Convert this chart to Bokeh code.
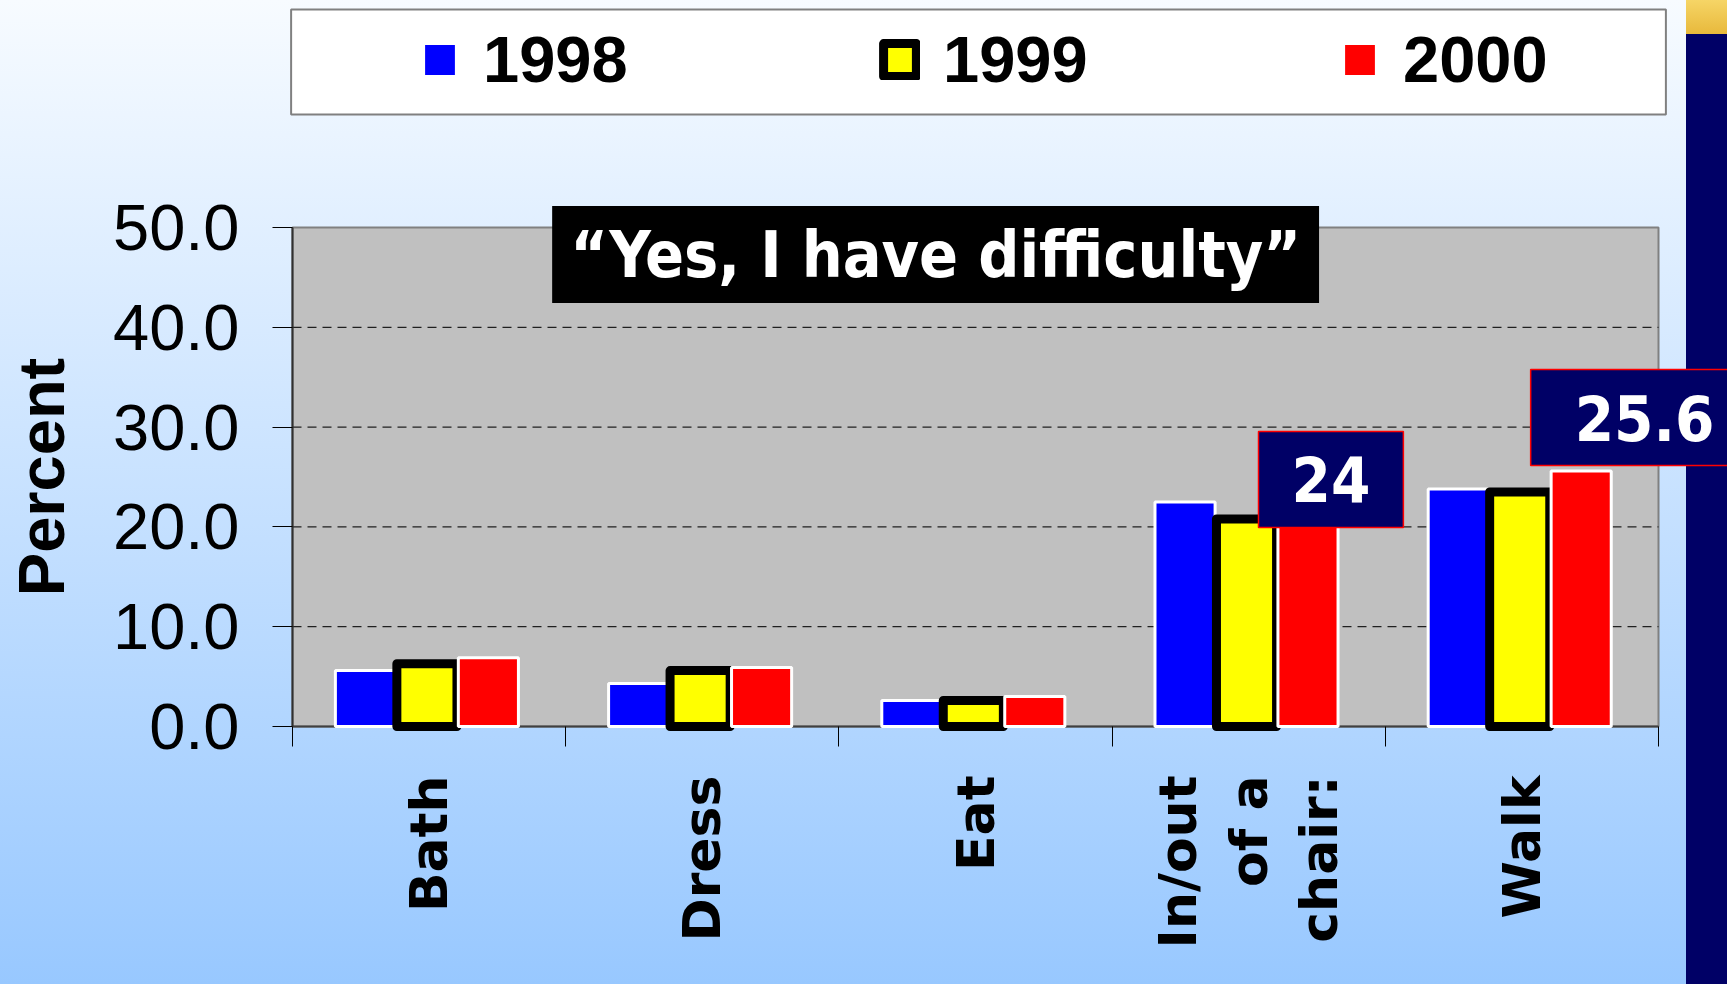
import math
from bokeh.plotting import figure
from bokeh.models import (Range1d, LinearAxis, FixedTicker,
                          NumeralTickFormatter, Legend, LegendItem, Label, ColumnDataSource)
from bokeh.embed import file_html
from bokeh.resources import INLINE

# ---------------- data ----------------
categories = ["Bath", "Dress", "Eat", "In/out\nof a\nchair:", "Walk"]
years = ["1998", "1999", "2000"]
v1998 = [5.6, 4.3, 2.6, 22.5, 23.8]
v1999 = [6.3, 5.6, 2.6, 20.8, 23.5]
v2000 = [6.9, 5.9, 3.0, 24.0, 25.6]
y_ticks = [0, 10, 20, 30, 40, 50]
title_text = "\u201cYes, I have difficulty\u201d"
callout_index = [3, 4]          # categories whose 2000 value is called out

# ---------------- layout / styles ----------------
COND = "'DejaVu Sans Condensed', 'DejaVu Sans'"
VERD = "DejaVu Sans"
ARIAL = "Liberation Sans"
W, H = 1727, 984
AX_X, AX_Y = 292, 726          # pixel position of the data origin
PX_X, PX_Y = 273.2, 9.98       # pixels per data unit
n = len(categories)
centers = [i + 0.5 for i in range(n)]
edges = [i for i in range(n + 1)]
offsets = [-0.233, -0.008, 0.217]
BW = 0.22
YMAX = y_ticks[-1]

src = ColumnDataSource(dict(
    x1998=[c + offsets[0] for c in centers],
    x1999=[c + offsets[1] for c in centers],
    x2000=[c + offsets[2] for c in centers],
    y1998=v1998, y1999=v1999, y2000=v2000))

p = figure(width=W, height=H,
           x_range=Range1d(-AX_X / PX_X, (W - AX_X) / PX_X),
           y_range=Range1d(-(H - AX_Y) / PX_Y, AX_Y / PX_Y),
           output_backend="svg", toolbar_location=None,
           x_axis_location=None, y_axis_location=None,
           min_border_left=0, min_border_right=0, min_border_top=0, min_border_bottom=0)

p.background_fill_color = None
p.border_fill_color = None
p.outline_line_color = None
p.grid.grid_line_color = None
p.styles = {
    "background": ("linear-gradient(#f6d566, #e8b93c) 1686px 0px / 41px 34px no-repeat, "
                   "linear-gradient(to right, rgba(0,0,0,0) 1686px, #000066 1686px), "
                   "linear-gradient(to bottom, #f7fbff, #98c8ff)")
}

# plot area and dashed grid lines
p.quad(left=[edges[0]], right=[edges[-1]], bottom=[y_ticks[0]], top=[YMAX],
       fill_color="#c0c0c0", line_color="#808080", line_width=2)
p.segment(x0=[edges[0]] * (len(y_ticks) - 2), x1=[edges[-1]] * (len(y_ticks) - 2),
          y0=y_ticks[1:-1], y1=y_ticks[1:-1], line_color="#202020", line_dash="9 6",
          line_width=1.2)

# y axis
yaxis = LinearAxis(fixed_location=0, bounds=(0, YMAX), ticker=FixedTicker(ticks=y_ticks),
                   formatter=NumeralTickFormatter(format="0.0"),
                   major_label_text_font=ARIAL, major_label_text_font_size="65px",
                   major_label_text_color="black", major_tick_out=20, major_tick_in=0,
                   major_tick_line_color="black", minor_tick_line_color=None,
                   major_label_standoff=33, axis_line_color="#303030", axis_line_width=2,
                   axis_label="Percent", axis_label_text_font=ARIAL,
                   axis_label_text_font_style="bold", axis_label_text_font_size="65px",
                   axis_label_text_color="black", axis_label_standoff=32)
p.add_layout(yaxis, "left")

# category-boundary ticks (zero line)
edge_axis = LinearAxis(fixed_location=0, bounds=(0, n), ticker=FixedTicker(ticks=edges),
                       major_tick_out=20, major_tick_in=0, minor_tick_line_color=None,
                       major_tick_line_color="black", axis_line_color="#404040", axis_line_width=2,
                       major_label_text_font_size="1px", major_label_standoff=0,
                       major_label_overrides={e: "" for e in edges})
p.add_layout(edge_axis, "below")

# category names
cat_axis = LinearAxis(fixed_location=0, bounds=(0, n), ticker=FixedTicker(ticks=centers),
                      major_label_overrides={c: name for c, name in zip(centers, categories)},
                      major_tick_line_color=None, minor_tick_line_color=None,
                      major_tick_out=0, major_tick_in=0,
                      axis_line_color=None, major_label_orientation=math.pi / 2,
                      major_label_text_font=VERD, major_label_text_font_style="bold",
                      major_label_text_font_size="52px", major_label_text_color="black",
                      major_label_text_line_height=1.17, major_label_standoff=49)
p.add_layout(cat_axis, "below")

# bars (drawn over the axis line, as in the original)
r1 = p.vbar(x="x1998", top="y1998", width=BW, source=src, level="overlay",
            fill_color="#0000ff", line_color="white", line_width=3)
r2 = p.vbar(x="x1999", top="y1999", width=BW, source=src, level="overlay",
            fill_color="#ffff00", line_color="black", line_width=9, line_join="round")
r3 = p.vbar(x="x2000", top="y2000", width=BW, source=src, level="overlay",
            fill_color="#ff0000", line_color="white", line_width=3)

# legend frame + legend
p.add_layout(Label(x=2.511, y=66.58, text=" ", text_font_size="10px",
                   text_align="center", text_baseline="middle",
                   background_fill_color="white", border_line_color="#808080", border_line_width=2,
                   padding=dict(left=686, right=686, top=47, bottom=47)))
legend = Legend(items=[LegendItem(label=y, renderers=[r]) for y, r in zip(years, [r1, r2, r3])],
                orientation="horizontal", location=(419, 887), padding=15, spacing=150,
                glyph_width=41, glyph_height=41, label_standoff=23, label_width=246,
                label_text_font=ARIAL, label_text_font_style="bold", label_text_font_size="65px",
                label_text_color="black",
                background_fill_alpha=0, border_line_color=None, margin=0)
p.add_layout(legend)

# title box
p.add_layout(Label(x=2.354, y=47.29, text=title_text,
                   text_color="white", text_font=COND, text_font_style="bold", text_font_size="64px",
                   text_align="center", text_baseline="middle", background_fill_color="black",
                   padding=dict(left=18, right=18, top=12, bottom=11)))

# value call-outs
dxs = [0.084, 0.232]
dys = [0.75, 5.36]
pads = [33, 44]
for i, dx, dy, pd in zip(callout_index, dxs, dys, pads):
    p.add_layout(Label(x=centers[i] + offsets[2] + dx, y=v2000[i] + dy, level="overlay",
                       text=f"{v2000[i]:g}", text_color="white", text_font=COND,
                       text_font_style="bold", text_font_size="63px",
                       text_align="center", text_baseline="middle",
                       background_fill_color="#000066", border_line_color="#ff0000",
                       border_line_width=1.5, padding=dict(left=pd, right=pd, top=25, bottom=25)))

open("out.html", "w").write(file_html(p, INLINE))
